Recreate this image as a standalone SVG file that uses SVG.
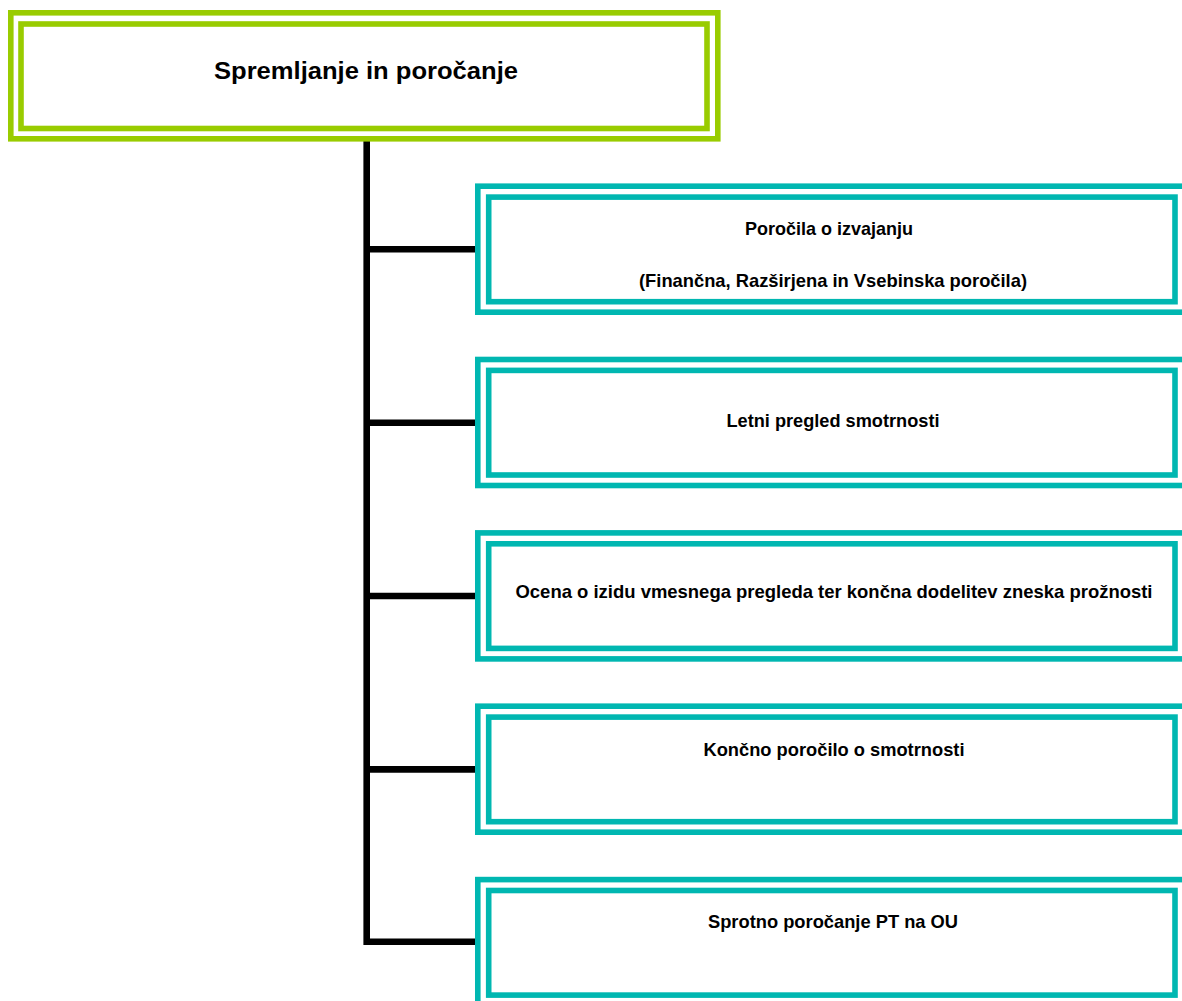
<svg xmlns="http://www.w3.org/2000/svg" width="1182" height="1001" viewBox="0 0 1182 1001">
<style>
.g{fill:none;stroke:#99CC00;stroke-width:5.6}
.t{fill:none;stroke:#00B7B1;stroke-width:5.6}
.c{fill:none;stroke:#000;stroke-width:6.6;stroke-linecap:butt;stroke-linejoin:miter}
text{font-family:"Liberation Sans",Arial,sans-serif;font-weight:bold;fill:#000;text-anchor:middle}
.tt{font-size:23px}
.bt{font-size:19px}
</style>
<rect width="1182" height="1001" fill="#fff"/>
<g id="connectors">
<path class="c" d="M366.7,141 V941.8 H475.5"/>
<path class="c" d="M366.7,249.3 H475.5"/>
<path class="c" d="M366.7,422.7 H475.5"/>
<path class="c" d="M366.7,596 H475.5"/>
<path class="c" d="M366.7,769.4 H475.5"/>
</g>
<g id="root">
<rect class="g" x="10.8" y="12.8" width="707" height="126"/>
<rect class="g" x="21" y="24" width="686" height="104.5"/>
<text class="tt" x="366" y="79" textLength="304" lengthAdjust="spacingAndGlyphs">Spremljanje in poročanje</text>
</g>
<g id="n1">
<rect class="t" x="477.8" y="186.2" width="720" height="126"/>
<rect class="t" x="488.7" y="197.1" width="686.3" height="104.6"/>
<text class="bt" x="829" y="235" textLength="168" lengthAdjust="spacingAndGlyphs">Poročila o izvajanju</text>
<text class="bt" x="833" y="287" textLength="388" lengthAdjust="spacingAndGlyphs">(Finančna, Razširjena in Vsebinska poročila)</text>
</g>
<g id="n2">
<rect class="t" x="477.8" y="359.5" width="720" height="126"/>
<rect class="t" x="488.7" y="370.4" width="686.3" height="104.6"/>
<text class="bt" x="833" y="427" textLength="213" lengthAdjust="spacingAndGlyphs">Letni pregled smotrnosti</text>
</g>
<g id="n3">
<rect class="t" x="477.8" y="532.9" width="720" height="126"/>
<rect class="t" x="488.7" y="543.8" width="686.3" height="104.6"/>
<text class="bt" x="834" y="598" textLength="637" lengthAdjust="spacingAndGlyphs">Ocena o izidu vmesnega pregleda ter končna dodelitev zneska prožnosti</text>
</g>
<g id="n4">
<rect class="t" x="477.8" y="706.2" width="720" height="126"/>
<rect class="t" x="488.7" y="717.1" width="686.3" height="104.6"/>
<text class="bt" x="834" y="756" textLength="261" lengthAdjust="spacingAndGlyphs">Končno poročilo o smotrnosti</text>
</g>
<g id="n5">
<rect class="t" x="477.8" y="879.6" width="720" height="126"/>
<rect class="t" x="488.7" y="890.5" width="686.3" height="104.6"/>
<text class="bt" x="833" y="928" textLength="250" lengthAdjust="spacingAndGlyphs">Sprotno poročanje PT na OU</text>
</g>
</svg>
